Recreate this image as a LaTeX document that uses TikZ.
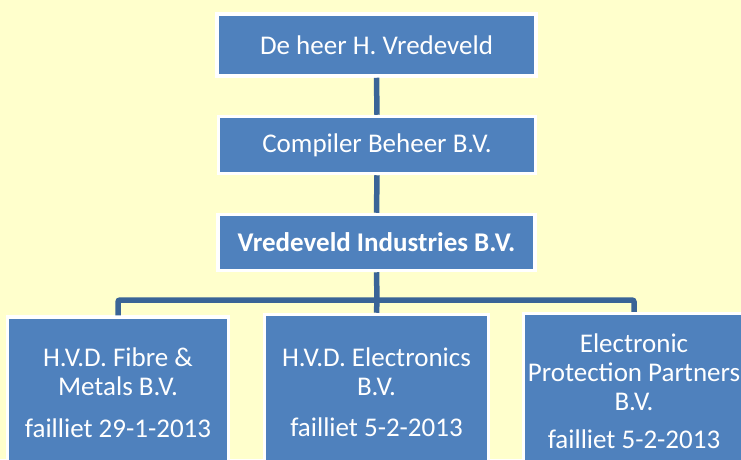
\documentclass[tikz,border=0pt]{standalone}
\usepackage{fontspec}
\setmainfont{Carlito}
\usetikzlibrary{positioning}
\definecolor{paper}{HTML}{FFFFCC}
\definecolor{boxblue}{HTML}{4F81BD}
\definecolor{linkblue}{HTML}{3A6497}
\tikzstyle{box} = [rectangle, fill=boxblue, draw=white, line width=3.5pt, text=white, align=center, font=\fontsize{27}{29}\selectfont]
\tikzstyle{link} = [draw=linkblue, line width=5.5pt, rounded corners=2pt]

\begin{document}
\begin{tikzpicture}[x=1pt, y=-1pt]
	\fill[paper] (0,0) rectangle (741,459);
	\useasboundingbox (0,0) rectangle (741,459);
	\clip (0,0) rectangle (741,459);
	\node[box, minimum width=319pt, minimum height=62pt] (owner) at (376.5, 45) {De heer H. Vredeveld};
	\node[box, minimum width=317pt, minimum height=57pt] (holding) at (377, 145) {Compiler Beheer B.V.};
	\node[box, minimum width=317pt, minimum height=56pt] (ind) at (376.5, 242.5) {\textbf{Vredeveld Industries B.V.}};
	\node[box, minimum width=221pt, minimum height=152pt] (fibre) at (118, 393) {H.V.D. Fibre \&\\ Metals B.V.\\[13pt] failliet 29-1-2013};
	\node[box, minimum width=224pt, minimum height=155pt] (elec) at (376.5, 392) {H.V.D. Electronics\\ B.V.\\[12pt] failliet 5-2-2013};
	\node[box, minimum width=221pt, minimum height=155pt] (protect) at (634, 391) {Electronic\\ Protection Partners\\ B.V.\\[9pt] failliet 5-2-2013};
	\coordinate (bus) at (377, 300);

	\draw[link] (owner.south) -- (holding.north);
	\draw[link] (holding.south) -- (ind.north);
	\draw[link] (ind.south) -- (bus);
	\draw[link] (fibre.north) |- (bus) -| (protect.north);
	\draw[link] (bus) -- (elec.north);
\end{tikzpicture}
\end{document}
